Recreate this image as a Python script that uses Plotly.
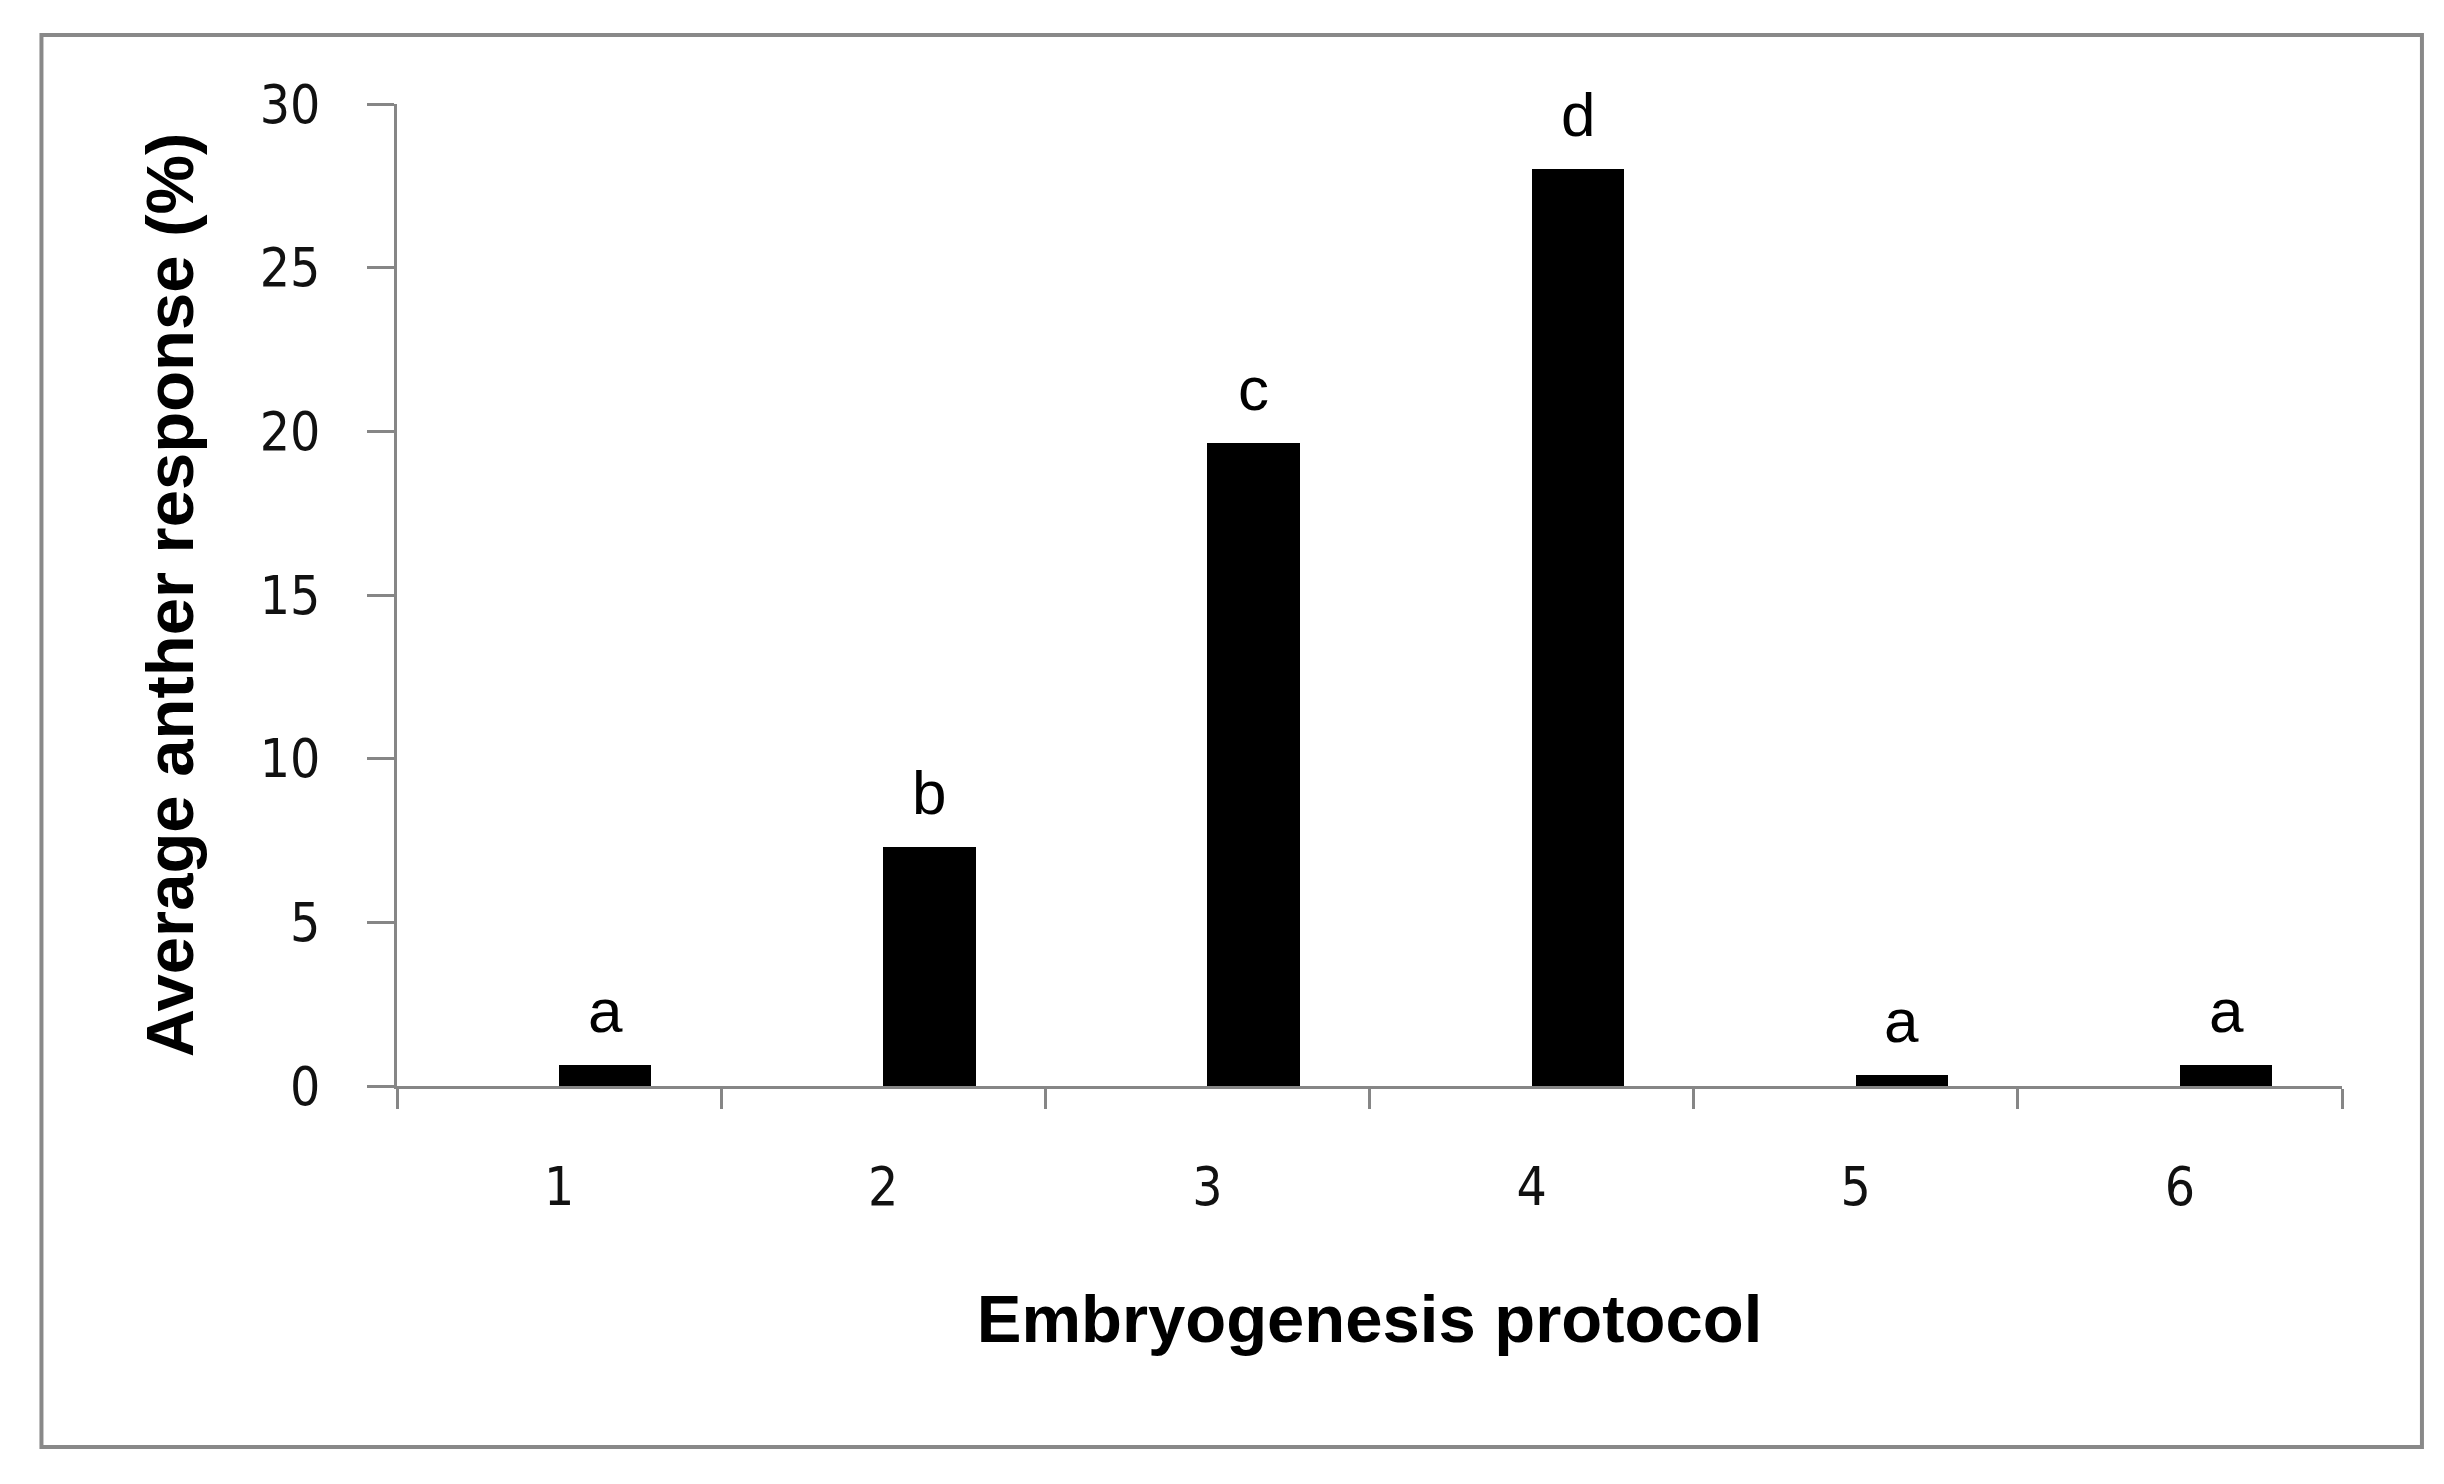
import plotly.graph_objects as go

categories = ["1", "2", "3", "4", "5", "6"]
values = [0.65, 7.3, 19.65, 28.0, 0.35, 0.65]
letters = ["a", "b", "c", "d", "a", "a"]
y_ticks = [0, 5, 10, 15, 20, 25, 30]
x_title = "Embryogenesis protocol"
y_title = "Average anther response (%)"

BAR_W = 0.285
AXIS_GRAY = "#868686"
TICK_FONT = dict(family="Liberation Sans Narrow, DejaVu Sans Condensed, Arial Narrow, sans-serif", size=53, color="#111111")
TITLE_FONT = dict(family="Liberation Sans, Arial, sans-serif", size=67, color="#000000")

fig = go.Figure()
fig.add_trace(go.Bar(
    x=categories, y=values,
    offset=0, width=BAR_W,
    marker=dict(color="#000000", line=dict(width=0)),
    showlegend=False, hoverinfo="skip",
))

for i, (v, lab) in enumerate(zip(values, letters)):
    fig.add_annotation(
        x=i + BAR_W / 2, y=v, xref="x", yref="y",
        text=lab, showarrow=False, yanchor="bottom", xanchor="center",
        yshift=18,
        font=dict(family="Liberation Sans, Arial, sans-serif", size=62, color="#000000"),
    )

fig.update_layout(
    width=2444, height=1484,
    margin=dict(l=389, r=110, t=96, b=406, autoexpand=False),
    paper_bgcolor="white", plot_bgcolor="white",
    bargap=0,
    shapes=[dict(type="rect", xref="paper", yref="paper",
                 x0=-0.1828, x1=1.0411, y0=-0.3676, y1=1.0703,
                 line=dict(color="#898989", width=4), fillcolor="rgba(0,0,0,0)", layer="below")],
)

fig.update_xaxes(
    type="category", range=[-0.5, 5.5],
    showline=True, linecolor=AXIS_GRAY, linewidth=3,
    ticks="outside", tickson="boundaries", ticklen=20, tickwidth=3, tickcolor=AXIS_GRAY,
    ticklabelstandoff=52,
    tickfont=TICK_FONT,
    showgrid=False, zeroline=False,
    title=dict(text="<b>" + x_title + "</b>", font=TITLE_FONT, standoff=80),
)
fig.update_yaxes(
    range=[0, 30], tickvals=y_ticks,
    showline=True, linecolor=AXIS_GRAY, linewidth=3,
    ticks="outside", ticklen=27, tickwidth=3, tickcolor=AXIS_GRAY,
    ticklabelstandoff=36,
    tickfont=TICK_FONT,
    showgrid=False, zeroline=False,
    title=dict(text="<b>" + y_title + "</b>", font=TITLE_FONT, standoff=45),
)

fig.write_html("out.html")
